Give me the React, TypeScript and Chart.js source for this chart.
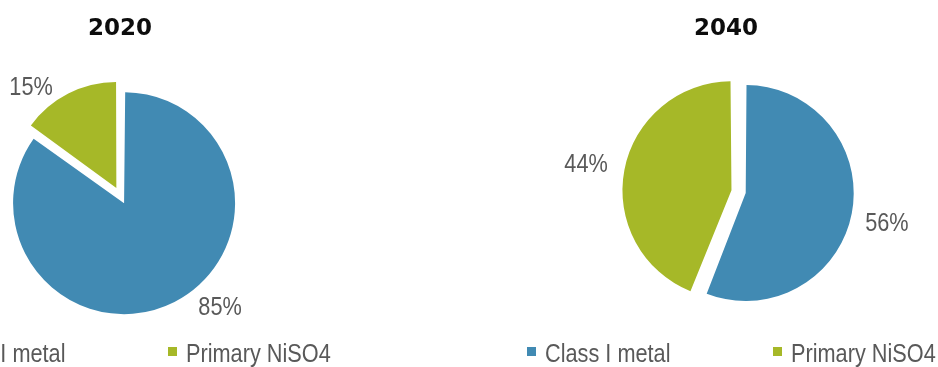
import React, { useEffect, useRef } from "react";
import { Chart, registerables } from "chart.js";

Chart.register(...registerables);

// ---- data ----
const categories = ["Class I metal", "Primary NiSO4"];
const years = ["2020", "2040"];
const share2020 = [85, 15];
const share2040 = [56, 44];
const sliceColors = ["#418AB3", "#A6B828"];

const TEXT_FONT = '26px "Liberation Sans", Arial, sans-serif';
const NARROW_SCALE = 0.835;
const TITLE_FONT = 'bold 23px "DejaVu Sans", Verdana, sans-serif';

function drawNarrow(
  ctx: CanvasRenderingContext2D,
  text: string,
  x: number,
  y: number,
  align: CanvasTextAlign
) {
  ctx.save();
  ctx.translate(x, y);
  ctx.scale(NARROW_SCALE, 1);
  ctx.textAlign = align;
  ctx.textBaseline = "alphabetic";
  ctx.fillText(text, 0, 0);
  ctx.restore();
}

const decorPlugin = {
  id: "decor",
  afterDraw(chart: any, _args: any, opts: any) {
    const ctx: CanvasRenderingContext2D = chart.ctx;
    ctx.save();
    // title
    ctx.font = TITLE_FONT;
    ctx.fillStyle = "#0D0D0D";
    ctx.textAlign = "center";
    ctx.textBaseline = "alphabetic";
    ctx.fillText(opts.title, opts.titleX, opts.titleBaseline);

    // percentage labels
    const meta = chart.getDatasetMeta(0);
    const values = chart.data.datasets[0].data as number[];
    ctx.font = TEXT_FONT;
    ctx.fillStyle = "#595959";
    meta.data.forEach((arc: any, i: number) => {
      const p = arc.getProps(["x", "y", "startAngle", "endAngle", "outerRadius"], true);
      const mid = (p.startAngle + p.endAngle) / 2 + (opts.labelTurn[i] * Math.PI) / 180;
      const d = p.outerRadius + opts.labelGap[i];
      const x = p.x + Math.cos(mid) * d;
      const y = p.y + Math.sin(mid) * d;
      drawNarrow(ctx, values[i] + "%", x, y + 9, "center");
    });

    // legend
    chart.data.labels.forEach((lab: string, i: number) => {
      const bx = opts.legendX + i * opts.legendStep;
      ctx.fillStyle = sliceColors[i];
      ctx.fillRect(bx, opts.legendBoxY, 9, 9);
      ctx.fillStyle = "#595959";
      drawNarrow(ctx, lab, bx + 18, opts.legendBaseline, "left");
    });
    ctx.restore();
  },
};

function PieChart(props: {
  values: number[];
  title: string;
  left: number;
  radius: number;
  offsets: number[];
  padding: { left: number; right: number; top: number; bottom: number };
  decor: any;
}) {
  const ref = useRef<HTMLCanvasElement>(null);
  useEffect(() => {
    const chart = new Chart(ref.current as HTMLCanvasElement, {
      type: "pie",
      data: {
        labels: categories,
        datasets: [
          {
            data: props.values,
            backgroundColor: sliceColors,
            borderWidth: 0,
            offset: props.offsets,
            hoverOffset: 0,
            radius: props.radius,
          } as any,
        ],
      },
      options: {
        animation: false,
        responsive: false,
        maintainAspectRatio: false,
        layout: { padding: props.padding },
        plugins: {
          legend: { display: false },
          title: { display: false },
          tooltip: { enabled: false },
          decor: { title: props.title, ...props.decor },
        } as any,
      },
      plugins: [decorPlugin],
    });
    return () => chart.destroy();
  }, []);
  return (
    <canvas
      ref={ref}
      width={469}
      height={367}
      style={{ position: "absolute", left: props.left, top: 0, width: 469, height: 367 }}
    />
  );
}

export default function App() {
  return (
    <div
      style={{
        position: "fixed",
        left: 0,
        top: 0,
        width: 938,
        height: 367,
        overflow: "hidden",
        background: "#ffffff",
      }}
    >
      <PieChart
        values={share2020}
        title={years[0]}
        left={0}
        radius={104}
        offsets={[28, 40]}
        padding={{ left: 0, right: 227.2, top: 46.8, bottom: 20 }}
        decor={{
          titleX: 120,
          titleBaseline: 35,
          labelTurn: [-15.3, -12],
          labelGap: [43.3, 38.7],
          legendX: -78,
          legendStep: 246,
          legendBoxY: 347,
          legendBaseline: 362,
        }}
      />
      <PieChart
        values={share2040}
        title={years[1]}
        left={469}
        radius={103}
        offsets={[20, 38]}
        padding={{ left: 74.6, right: 0, top: 47.2, bottom: 30 }}
        decor={{
          titleX: 257,
          titleBaseline: 35,
          labelTurn: [0.6, 0],
          labelGap: [46, 54.5],
          legendX: 58,
          legendStep: 246,
          legendBoxY: 347,
          legendBaseline: 362,
        }}
      />
    </div>
  );
}
